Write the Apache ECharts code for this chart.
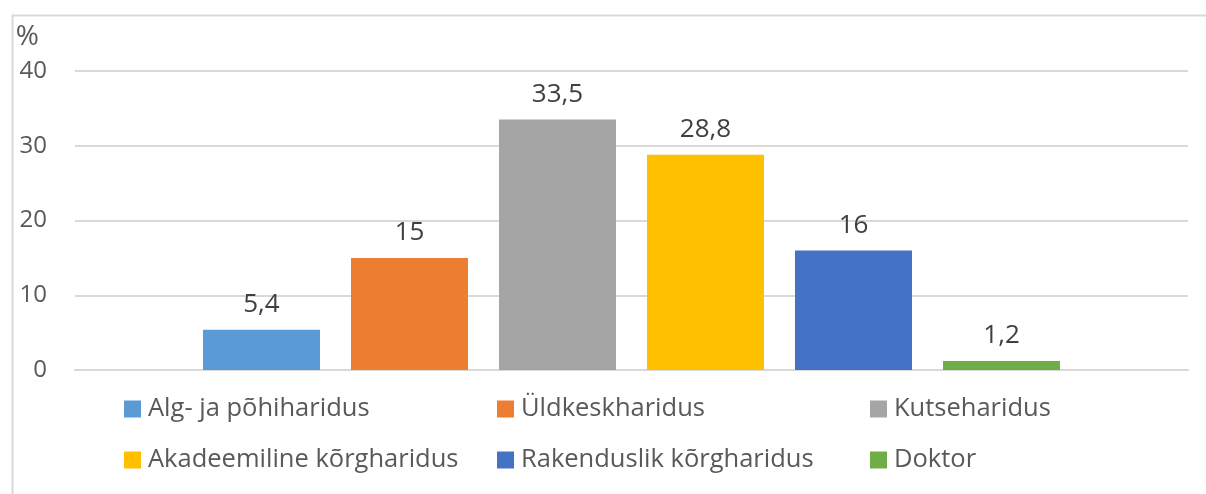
<!DOCTYPE html>
<html>
<head>
<meta charset="utf-8">
<script src="https://cdn.jsdelivr.net/npm/echarts@6/dist/echarts.min.js"></script>
<style>
  html, body { margin: 0; padding: 0; background: #fff; }
  #chart { width: 1206px; height: 494px; }
</style>
</head>
<body>
<div id="chart"></div>
<script>
// Education level shares, %
const seriesNames = [
  'Alg- ja põhiharidus',
  'Üldkeskharidus',
  'Kutseharidus',
  'Akadeemiline kõrgharidus',
  'Rakenduslik kõrgharidus',
  'Doktor'
];
const seriesValues = [5.4, 15, 33.5, 28.8, 16, 1.2];
const seriesColors = ['#5B9BD5', '#ED7D31', '#A5A5A5', '#FFC000', '#4472C4', '#70AD47'];
const yTicks = { min: 0, max: 40, interval: 10 };
const unitLabel = '%';

const FONT = '"Open Sans", "DejaVu Sans", sans-serif';

const chart = echarts.init(document.getElementById('chart'), null, { renderer: 'canvas' });

const series = seriesNames.map((name, i) => ({
  name: name,
  type: 'bar',
  data: [seriesValues[i]],
  barWidth: 117,
  barGap: '26.5%',
  itemStyle: { color: seriesColors[i] },
  label: {
    show: true,
    position: 'top',
    distance: 12,
    color: '#404040',
    fontFamily: FONT,
    fontSize: 26,
    formatter: p => String(p.value).replace('.', ',')
  },
  emphasis: { disabled: true }
}));

// legend laid out in three columns of two rows
const legendCols = [
  { left: 124, names: [seriesNames[0], seriesNames[3]] },
  { left: 497, names: [seriesNames[1], seriesNames[4]] },
  { left: 870, names: [seriesNames[2], seriesNames[5]] }
];
const legends = legendCols.map(col => ({
  orient: 'vertical',
  left: col.left,
  top: 396,
  padding: 0,
  data: col.names,
  icon: 'rect',
  itemWidth: 17,
  itemHeight: 17,
  itemGap: 25,
  selectedMode: false,
  textStyle: { color: '#595959', fontFamily: FONT, fontSize: 25.5, lineHeight: 25, padding: [0, 0, 0, 2] }
}));

chart.setOption({
  animation: false,
  backgroundColor: '#ffffff',
  grid: { left: 75, right: 18, top: 71, bottom: 124 },
  legend: legends,
  xAxis: {
    type: 'category',
    data: [''],
    axisLine: { show: true, lineStyle: { color: '#D9D9D9', width: 2 } },
    axisTick: { show: false },
    axisLabel: { show: false }
  },
  yAxis: {
    type: 'value',
    min: yTicks.min,
    max: yTicks.max,
    interval: yTicks.interval,
    name: unitLabel,
    nameLocation: 'end',
    nameGap: 20,
    nameTextStyle: {
      color: '#595959',
      fontFamily: FONT,
      fontSize: 28,
      lineHeight: 28,
      align: 'right',
      verticalAlign: 'bottom',
      padding: [0, 36, 0, 0]
    },
    axisLine: { show: false },
    axisTick: { show: false },
    axisLabel: { color: '#595959', fontFamily: FONT, fontSize: 24, margin: 28 },
    splitLine: { lineStyle: { color: '#D9D9D9', width: 2 } }
  },
  graphic: [
    {
      type: 'rect',
      left: 10,
      top: 13,
      shape: { width: 1300, height: 600 },
      style: { fill: 'none', stroke: '#D9D9D9', lineWidth: 2 },
      silent: true,
      z: -1
    }
  ],
  series: series
});
</script>
</body>
</html>
